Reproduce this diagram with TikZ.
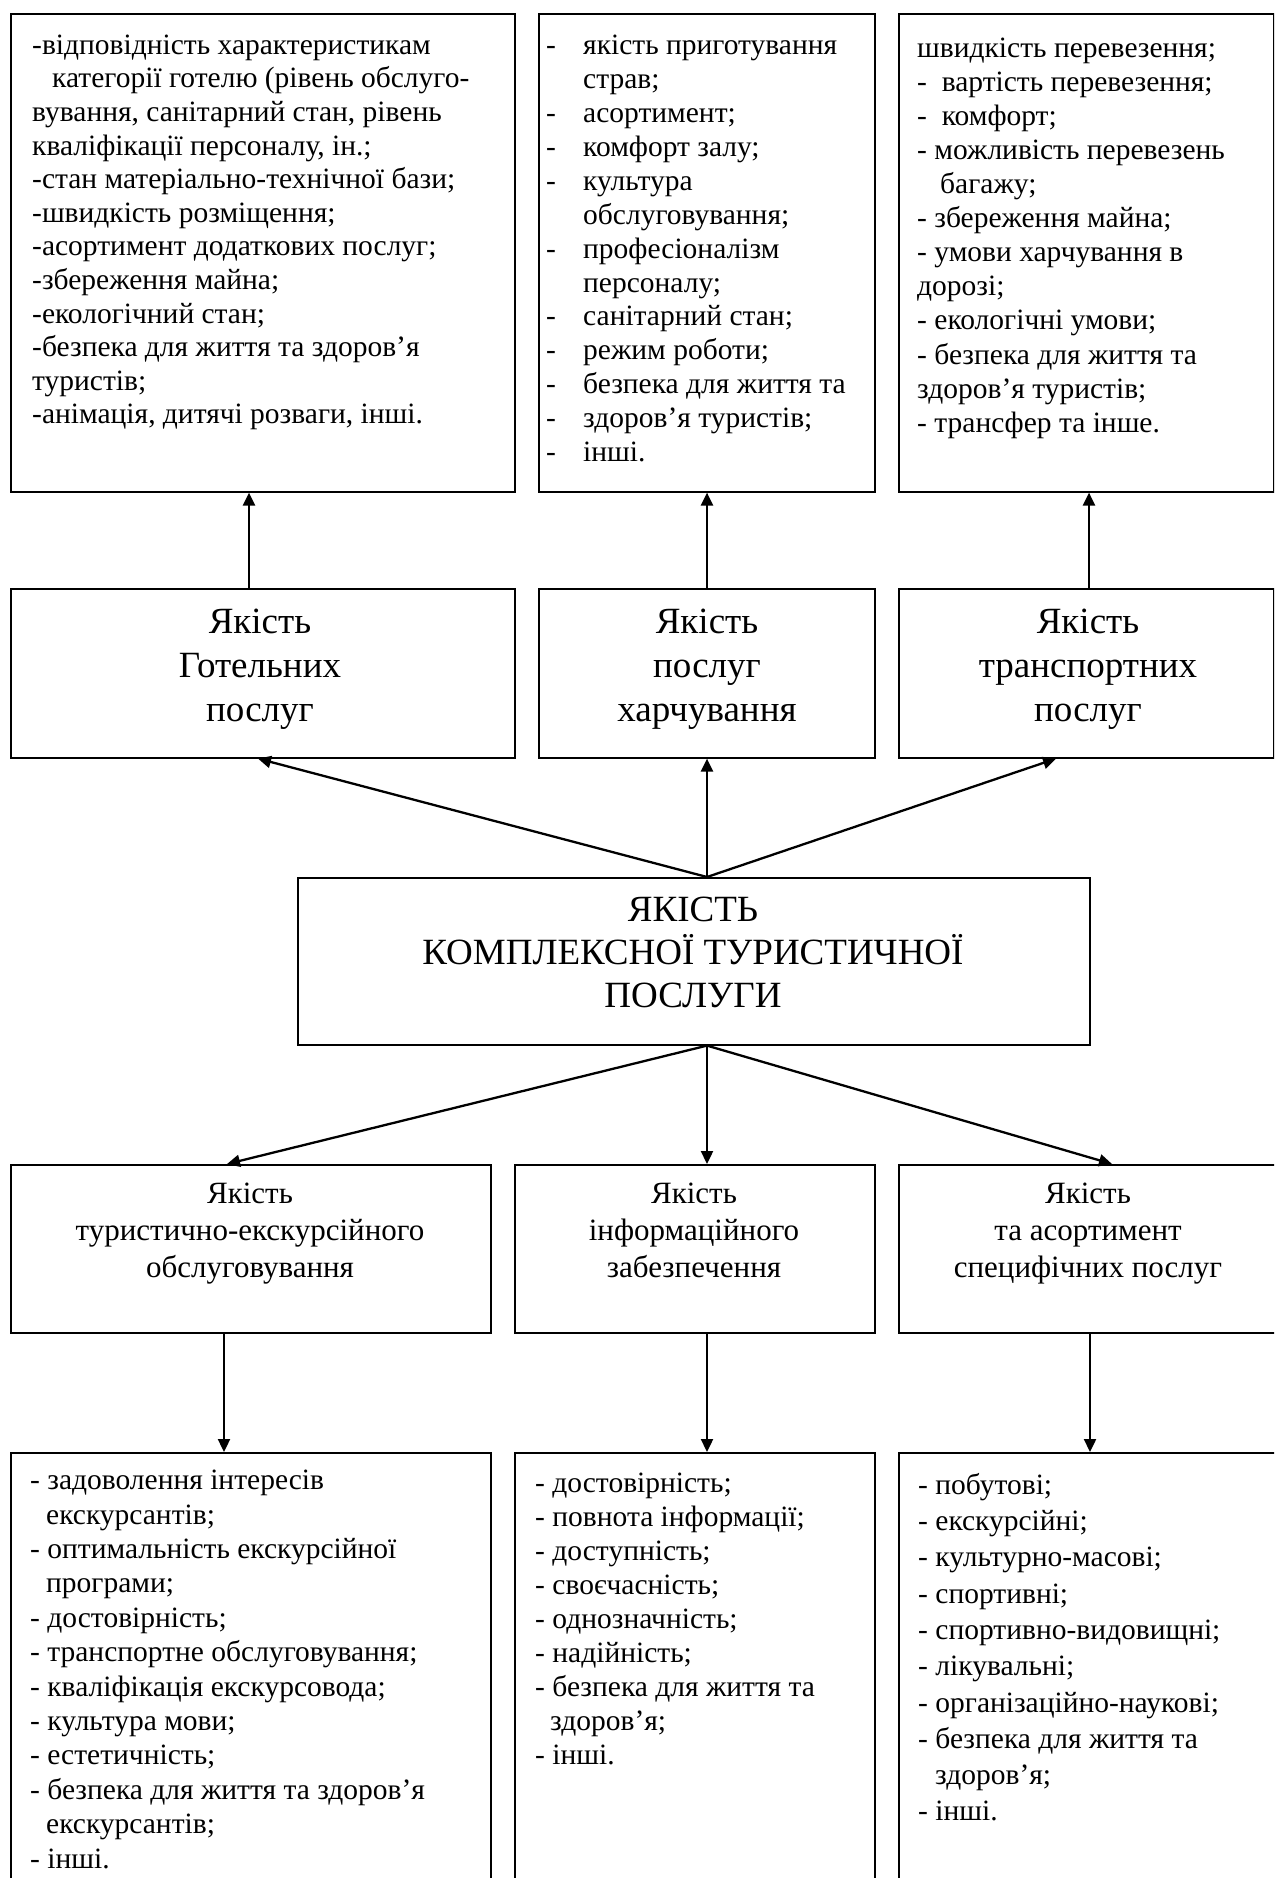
\documentclass[tikz,border=0pt]{standalone}
\usepackage{fontspec}
\setmainfont{Liberation Serif}
\usetikzlibrary{arrows.meta}
\newcommand\dashtab{\makebox[37pt][l]{-}}
\newcommand\indtab{\hspace*{37pt}}
\begin{document}
\begin{tikzpicture}[x=1pt,y=-1pt,
  box/.style={draw, line width=1.6pt, inner sep=0pt, anchor=north west},
  arr/.style={line width=2.3pt, -{Triangle[length=13pt,width=12pt]}},
  lst/.style={anchor=north west, inner sep=0pt, align=left},
  ctr/.style={anchor=north, inner sep=0pt, align=center}]
\useasboundingbox (0,0) rectangle (1274,1878);
\clip (0,0) rectangle (1274,1878);
% boxes
\node[box, minimum width=504pt, minimum height=478pt] (a1) at (10,13) {};
\node[box, minimum width=336pt, minimum height=478pt] (a2) at (538,13) {};
\node[box, minimum width=375pt, minimum height=478pt] (a3) at (898,13) {};
\node[box, minimum width=504pt, minimum height=169pt] (b1) at (10,588) {};
\node[box, minimum width=336pt, minimum height=169pt] (b2) at (538,588) {};
\node[box, minimum width=375pt, minimum height=169pt] (b3) at (898,588) {};
\node[box, minimum width=792pt, minimum height=167pt] (c) at (297,877) {};
\node[box, minimum width=480pt, minimum height=168pt] (d1) at (10,1164) {};
\node[box, minimum width=360pt, minimum height=168pt] (d2) at (514,1164) {};
\node[box, minimum width=380pt, minimum height=168pt] (d3) at (898,1164) {};
\node[box, minimum width=480pt, minimum height=460pt] (e1) at (10,1452) {};
\node[box, minimum width=360pt, minimum height=460pt] (e2) at (514,1452) {};
\node[box, minimum width=380pt, minimum height=460pt] (e3) at (898,1452) {};
% arrow columns
\coordinate (xa) at (249,0);
\coordinate (xb) at (707,0);
\coordinate (xc) at (1089,0);
\coordinate (xt1) at (258,0);
\coordinate (xt3) at (1056,0);
\coordinate (xd1) at (227,0);
\coordinate (xd3) at (1112,0);
\coordinate (xe1) at (224,0);
\coordinate (xe3) at (1090,0);
\draw[arr] (xa |- b1.north) -- (xa |- a1.south);
\draw[arr] (xb |- b2.north) -- (xb |- a2.south);
\draw[arr] (xc |- b3.north) -- (xc |- a3.south);
\draw[arr] (xb |- c.north) -- (xt1 |- b1.south);
\draw[arr] (xb |- c.north) -- (xb |- b2.south);
\draw[arr] (xb |- c.north) -- (xt3 |- b3.south);
\draw[arr] (xb |- c.south) -- (xd1 |- d1.north);
\draw[arr] (xb |- c.south) -- (xb |- d2.north);
\draw[arr] (xb |- c.south) -- (xd3 |- d3.north);
\draw[arr] (xe1 |- d1.south) -- (xe1 |- e1.north);
\draw[arr] (xb |- d2.south) -- (xb |- e2.north);
\draw[arr] (xe3 |- d3.south) -- (xe3 |- e3.north);
% texts
\node[lst, font=\fontsize{29.5}{33.6}\selectfont] (ta1) at (32,30.5) {\strut-відповідність характеристикам\\
\hspace*{20pt}категорії готелю (рівень обслуго-\\
вування, санітарний стан, рівень\\
кваліфікації персоналу, ін.;\\
-стан матеріально-технічної бази;\\
-швидкість розміщення;\\
-асортимент додаткових послуг;\\
-збереження майна;\\
-екологічний стан;\\
-безпека для життя та здоров’я\\
туристів;\\
-анімація, дитячі розваги, інші.};
\node[lst, font=\fontsize{29.5}{33.9}\selectfont] (ta2) at (546,30.8) {\strut\dashtab якість приготування\\
\indtab страв;\\
\dashtab асортимент;\\
\dashtab комфорт залу;\\
\dashtab культура\\
\indtab обслуговування;\\
\dashtab професіоналізм\\
\indtab персоналу;\\
\dashtab санітарний стан;\\
\dashtab режим роботи;\\
\dashtab безпека для життя та\\
\dashtab здоров’я туристів;\\
\dashtab інші.};
\node[lst, font=\fontsize{29.5}{34.1}\selectfont] (ta3) at (917,33.1) {\strut швидкість перевезення;\\
-\ \ вартість перевезення;\\
-\ \ комфорт;\\
- можливість перевезень\\
\hspace*{23pt}багажу;\\
- збереження майна;\\
- умови харчування в\\
дорозі;\\
- екологічні умови;\\
- безпека для життя та\\
здоров’я туристів;\\
- трансфер та інше.};
\node[ctr, font=\fontsize{37}{44}\selectfont] (tb1) at (260,602) {\strut Якість\\Готельних\\послуг};
\node[ctr, font=\fontsize{37}{44}\selectfont] (tb2) at (707,602) {\strut Якість\\послуг\\харчування};
\node[ctr, font=\fontsize{37}{44}\selectfont] (tb3) at (1088,602) {\strut Якість\\транспортних\\послуг};
\node[ctr, font=\fontsize{37}{43}\selectfont] (tc) at (693,891) {\strut ЯКІСТЬ\\КОМПЛЕКСНОЇ ТУРИСТИЧНОЇ\\ПОСЛУГИ};
\node[ctr, font=\fontsize{31}{37}\selectfont] (td1) at (250,1177) {\strut Якість\\туристично-екскурсійного\\обслуговування};
\node[ctr, font=\fontsize{31}{37}\selectfont] (td2) at (694,1177) {\strut Якість\\інформаційного\\забезпечення};
\node[ctr, font=\fontsize{31}{37}\selectfont] (td3) at (1088,1177) {\strut Якість\\та асортимент\\специфічних послуг};
\node[lst, font=\fontsize{29.5}{34.4}\selectfont] (te1) at (30,1465.3) {\strut - задоволення інтересів\\
\hspace*{16pt}екскурсантів;\\
- оптимальність екскурсійної\\
\hspace*{16pt}програми;\\
- достовірність;\\
- транспортне обслуговування;\\
- кваліфікація екскурсовода;\\
- культура мови;\\
- естетичність;\\
- безпека для життя та здоров’я\\
\hspace*{16pt}екскурсантів;\\
- інші.};
\node[lst, font=\fontsize{29.5}{34}\selectfont] (te2) at (535,1468.2) {\strut - достовірність;\\
- повнота інформації;\\
- доступність;\\
- своєчасність;\\
- однозначність;\\
- надійність;\\
- безпека для життя та\\
\hspace*{15pt}здоров’я;\\
- інші.};
\node[lst, font=\fontsize{29.5}{36.3}\selectfont] (te3) at (918,1468.6) {\strut - побутові;\\
- екскурсійні;\\
- культурно-масові;\\
- спортивні;\\
- спортивно-видовищні;\\
- лікувальні;\\
- організаційно-наукові;\\
- безпека для життя та\\
\hspace*{17pt}здоров’я;\\
- інші.};
\end{tikzpicture}
\end{document}
